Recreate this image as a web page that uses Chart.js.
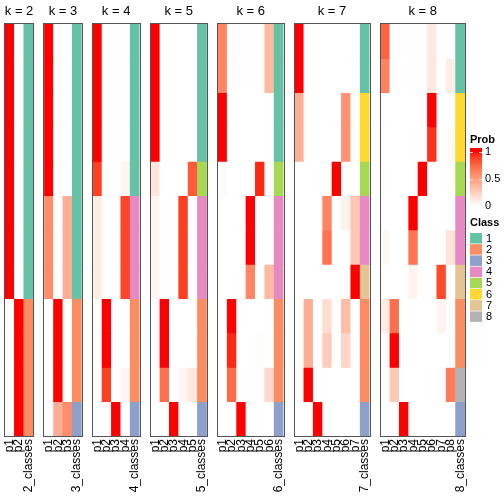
<!DOCTYPE html>
<html>
<head>
<meta charset="utf-8">
<script src="https://cdn.jsdelivr.net/npm/chart.js@4.4.1/dist/chart.umd.min.js"></script>
<style>
  html, body { margin: 0; padding: 0; background: #fff; }
  #wrap { position: relative; width: 504px; height: 504px; overflow: hidden; }
  #wrap canvas { position: absolute; top: 0; }
</style>
</head>
<body>
<div id="wrap"></div>
<script>
/* membership probabilities, one row per sample (12 samples), one column per class */
var prob2 = [
  [1, 0], [1, 0], [1, 0], [1, 0], [1, 0], [1, 0], [1, 0], [1, 0],
  [0, 1], [0, 1], [0, 1], [0, 1]
];
var class2 = [1, 1, 1, 1, 1, 1, 1, 1, 2, 2, 2, 2];

var prob3 = [
  [1, 0, 0], [1, 0, 0], [1, 0, 0], [1, 0, 0], [1, 0, 0],
  [0.58, 0, 0.42], [0.58, 0, 0.42], [0.58, 0, 0.42],
  [0, 1, 0], [0, 1, 0], [0, 1, 0],
  [0, 0.42, 0.58]
];
var class3 = [1, 1, 1, 1, 1, 1, 1, 1, 2, 2, 2, 3];

var prob4 = [
  [1, 0, 0, 0], [1, 0, 0, 0], [1, 0, 0, 0], [1, 0, 0, 0],
  [0.9, 0, 0, 0.05],
  [0.1, 0, 0, 0.88], [0.1, 0, 0, 0.88], [0.1, 0, 0, 0.88],
  [0, 1, 0, 0], [0, 1, 0, 0],
  [0, 0.9, 0, 0.04],
  [0, 0, 1, 0]
];
var class4 = [1, 1, 1, 1, 1, 4, 4, 4, 2, 2, 2, 3];

var prob5 = [
  [1, 0, 0, 0, 0], [1, 0, 0, 0, 0], [1, 0, 0, 0, 0], [1, 0, 0, 0, 0],
  [0.14, 0, 0, 0, 0.8],
  [0.05, 0, 0, 0.9, 0], [0.05, 0, 0, 0.9, 0], [0.05, 0, 0, 0.9, 0],
  [0, 1, 0, 0, 0], [0, 1, 0, 0, 0],
  [0, 0.72, 0, 0.05, 0.12],
  [0, 0, 1, 0, 0]
];
var class5 = [1, 1, 1, 1, 5, 4, 4, 4, 2, 2, 2, 3];

var prob6 = [
  [0.62, 0, 0, 0, 0, 0.36], [0.62, 0, 0, 0, 0, 0.36],
  [1, 0, 0, 0, 0, 0], [1, 0, 0, 0, 0, 0],
  [0.02, 0, 0, 0, 0.95, 0],
  [0, 0, 0, 1, 0, 0], [0, 0, 0, 1, 0, 0],
  [0, 0, 0, 0.62, 0, 0.36],
  [0, 1, 0, 0, 0, 0],
  [0, 0.95, 0, 0, 0.02, 0],
  [0, 0.74, 0, 0, 0, 0.2],
  [0, 0, 1, 0, 0, 0]
];
var class6 = [1, 1, 1, 1, 5, 4, 4, 4, 2, 2, 2, 3];

var prob7 = [
  [1, 0, 0, 0, 0, 0, 0], [1, 0, 0, 0, 0, 0, 0],
  [0.42, 0, 0, 0, 0, 0.56, 0], [0.42, 0, 0, 0, 0, 0.56, 0],
  [0, 0, 0, 0, 1, 0, 0],
  [0, 0, 0, 0.62, 0, 0.07, 0.3],
  [0, 0, 0, 0.7, 0, 0, 0.3],
  [0, 0, 0, 0, 0, 0, 1],
  [0, 0.42, 0, 0.18, 0, 0.35, 0],
  [0, 0.42, 0, 0.27, 0, 0.22, 0],
  [0, 1, 0, 0, 0, 0, 0],
  [0, 0, 1, 0, 0, 0, 0]
];
var class7 = [1, 1, 6, 6, 5, 4, 4, 7, 2, 2, 2, 3];

var prob8 = [
  [0.78, 0, 0, 0, 0, 0.12, 0, 0],
  [0.64, 0, 0, 0, 0, 0.12, 0, 0.09],
  [0, 0, 0, 0, 0, 1, 0, 0],
  [0, 0, 0, 0, 0, 0.93, 0, 0.02],
  [0, 0, 0, 0, 1, 0, 0, 0],
  [0, 0, 0, 1, 0, 0, 0, 0],
  [0.04, 0, 0, 0.7, 0, 0, 0, 0.15],
  [0, 0, 0, 0.06, 0, 0, 0.86, 0],
  [0.1, 0.72, 0, 0, 0, 0, 0.06, 0],
  [0, 1, 0, 0, 0, 0, 0, 0],
  [0, 0.28, 0, 0, 0, 0, 0, 0.66],
  [0, 0, 1, 0, 0, 0, 0, 0]
];
var class8 = [1, 1, 6, 6, 5, 4, 4, 7, 2, 2, 8, 3];

var classColors = ['#66C2A5', '#FC8D62', '#8DA0CB', '#E78AC3', '#A6D854', '#FFD92F', '#E5C494', '#B3B3B3'];
var classNames = ['1', '2', '3', '4', '5', '6', '7', '8'];
var probTicks = [1, 0.5, 0];
var probTickLabels = ['1', '0.5', '0'];

var panels = [
  { k: 2, prob: prob2, cls: class2 },
  { k: 3, prob: prob3, cls: class3 },
  { k: 4, prob: prob4, cls: class4 },
  { k: 5, prob: prob5, cls: class5 },
  { k: 6, prob: prob6, cls: class6 },
  { k: 7, prob: prob7, cls: class7 },
  { k: 8, prob: prob8, cls: class8 }
];

var FONT = '"Liberation Sans", Arial, Helvetica, sans-serif';

/* white -> red colour ramp, interpolated in LAB like colorRamp2 */
function toLin(c){ c /= 255; return c <= 0.04045 ? c / 12.92 : Math.pow((c + 0.055) / 1.055, 2.4); }
function toSrgb(c){
  c = c <= 0.0031308 ? 12.92 * c : 1.055 * Math.pow(c, 1 / 2.4) - 0.055;
  return Math.round(Math.max(0, Math.min(1, c)) * 255);
}
function rgb2lab(r, g, b){
  r = toLin(r); g = toLin(g); b = toLin(b);
  var x = (0.4124 * r + 0.3576 * g + 0.1805 * b) / 0.95047;
  var y = 0.2126 * r + 0.7152 * g + 0.0722 * b;
  var z = (0.0193 * r + 0.1192 * g + 0.9505 * b) / 1.08883;
  function f(t){ return t > 0.008856 ? Math.cbrt(t) : 7.787 * t + 16 / 116; }
  var fx = f(x), fy = f(y), fz = f(z);
  return [116 * fy - 16, 500 * (fx - fy), 200 * (fy - fz)];
}
function lab2rgb(L, a, b){
  var fy = (L + 16) / 116, fx = fy + a / 500, fz = fy - b / 200;
  function inv(t){ var t3 = t * t * t; return t3 > 0.008856 ? t3 : (t - 16 / 116) / 7.787; }
  var x = inv(fx) * 0.95047, y = inv(fy), z = inv(fz) * 1.08883;
  var r = 3.2406 * x - 1.5372 * y - 0.4986 * z;
  var g = -0.9689 * x + 1.8758 * y + 0.0415 * z;
  var bb = 0.0557 * x - 0.2040 * y + 1.0570 * z;
  return 'rgb(' + toSrgb(r) + ',' + toSrgb(g) + ',' + toSrgb(bb) + ')';
}
var labLo = rgb2lab(255, 255, 255), labHi = rgb2lab(255, 0, 0);
function probColor(v){
  v = Math.max(0, Math.min(1, v));
  return lab2rgb(labLo[0] + (labHi[0] - labLo[0]) * v,
                 labLo[1] + (labHi[1] - labLo[1]) * v,
                 labLo[2] + (labHi[2] - labLo[2]) * v);
}

/* layout */
var colW = 9.38, gap = 11, x0 = 5, topPad = 24, axisH = 68, m = 8;
var wrap = document.getElementById('wrap');

// legend drawn next to the last panel (page coords, shifted by canvas left)
function drawLegend(ctx, offX){
  ctx.save();
  ctx.translate(-offX, 0);
  ctx.fillStyle = '#000';
  ctx.textBaseline = 'middle';
  ctx.textAlign = 'left';
  ctx.font = 'bold 11px ' + FONT;
  var lx = 470;
  ctx.fillText('Prob', lx, 140);
  // gradient bar
  var gTop = 148, gBot = 207, y1 = 152, y0 = 206;
  for(var y = gTop; y < gBot; y++){
    var t = (y0 - (y + 0.5)) / (y0 - y1);
    ctx.fillStyle = probColor(t);
    ctx.fillRect(lx, y, 12, 1);
  }
  ctx.font = '11px ' + FONT;
  probTicks.forEach(function(v, i){
    var yy = y0 - (y0 - y1) * v;
    ctx.strokeStyle = 'rgba(255,255,255,0.8)';
    ctx.lineWidth = 1;
    ctx.beginPath();
    ctx.moveTo(lx, Math.round(yy) + 0.5); ctx.lineTo(lx + 3, Math.round(yy) + 0.5);
    ctx.moveTo(lx + 9, Math.round(yy) + 0.5); ctx.lineTo(lx + 12, Math.round(yy) + 0.5);
    ctx.stroke();
    ctx.fillStyle = '#000';
    ctx.fillText(probTickLabels[i], lx + 15, yy);
  });
  ctx.font = 'bold 11px ' + FONT;
  ctx.fillText('Class', lx, 223);
  ctx.font = '11px ' + FONT;
  classNames.forEach(function(name, i){
    var yy = 233 + i * 11.2;
    ctx.fillStyle = classColors[i];
    ctx.fillRect(lx, yy, 12, 10.5);
    ctx.fillStyle = '#000';
    ctx.fillText(name, lx + 16, yy + 5.5);
  });
  ctx.restore();
}

var left = x0;
panels.forEach(function(p, idx){
  var n = p.k + 1;
  var w = n * colW;
  var last = idx == panels.length - 1;
  var cl = Math.floor(left - m);
  var padL = left - cl;
  var cw = last ? 504 - cl : Math.ceil(w + padL + m);
  var padR = cw - padL - w;

  var canvas = document.createElement('canvas');
  canvas.width = cw; canvas.height = 504;
  canvas.style.left = cl + 'px';
  canvas.style.width = cw + 'px';
  canvas.style.height = '504px';
  wrap.appendChild(canvas);

  var labels = [];
  for(var i = 1; i <= p.k; i++) labels.push('p' + i);
  labels.push(p.k + '_classes');

  var datasets = p.prob.map(function(row, r){
    return {
      data: labels.map(function(){ return [r, r + 1]; }),
      backgroundColor: row.map(probColor).concat(classColors[p.cls[r] - 1]),
      borderWidth: 0,
      grouped: false,
      barPercentage: 1,
      categoryPercentage: 1
    };
  });

  new Chart(canvas.getContext('2d'), {
    type: 'bar',
    data: { labels: labels, datasets: datasets },
    options: {
      responsive: false,
      animation: false,
      layout: { padding: { top: topPad, left: padL, right: padR, bottom: 0 } },
      plugins: { legend: { display: false }, tooltip: { enabled: false }, title: { display: false } },
      scales: {
        x: {
          type: 'category',
          grid: { display: false, drawTicks: false },
          border: { display: false },
          ticks: { autoSkip: false, minRotation: 90, maxRotation: 90, padding: 3, color: '#000',
                   font: { family: FONT, size: 12 } },
          afterFit: function(s){ s.height = axisH; s.paddingLeft = 0; s.paddingRight = 0; }
        },
        y: { type: 'linear', min: 0, max: 12, reverse: true, display: false }
      }
    },
    plugins: [{
      id: 'frame',
      afterDatasetsDraw: function(chart){
        var a = chart.chartArea, ctx = chart.ctx;
        ctx.save();
        ctx.strokeStyle = '#555';
        ctx.lineWidth = 1;
        ctx.strokeRect(Math.round(a.left) - 0.5, Math.round(a.top) - 0.5,
                       Math.round(a.right - a.left) + 1, Math.round(a.bottom - a.top) + 1);
        ctx.fillStyle = '#000';
        ctx.font = '13px ' + FONT;
        ctx.textAlign = 'center';
        ctx.textBaseline = 'middle';
        ctx.fillText('k = ' + p.k, (a.left + a.right) / 2, 11);
        ctx.restore();
        if(last) drawLegend(ctx, cl);
      }
    }]
  });

  left += w + gap;
});
</script>
</body>
</html>
